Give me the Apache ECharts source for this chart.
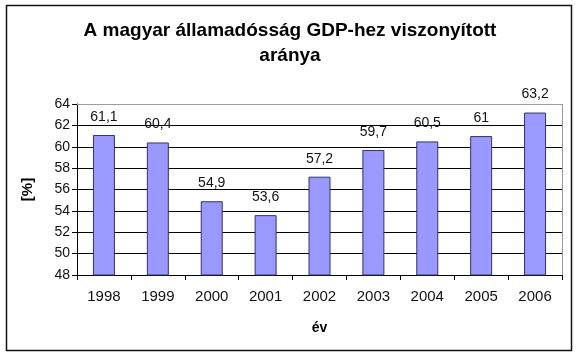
<!DOCTYPE html>
<html><head><meta charset="utf-8">
<script src="https://cdn.jsdelivr.net/npm/echarts@6/dist/echarts.min.js"></script>
<style>html,body{margin:0;padding:0;background:#fff}#c{width:580px;height:358px}</style>
</head><body><div id="c"></div>
<script>
const years = ['1998','1999','2000','2001','2002','2003','2004','2005','2006'];
const ratio = [61.1, 60.4, 54.9, 53.6, 57.2, 59.7, 60.5, 61, 63.2];
const titleText = 'A magyar államadósság GDP-hez viszonyított\naránya';
const yName = '[%]';
const xName = 'év';

const FONT = '"Liberation Sans", Arial, sans-serif';
const chart = echarts.init(document.getElementById('c'), null, {renderer: 'canvas'});
chart.setOption({
  backgroundColor: '#fff',
  animation: false,
  graphic: [{
    type: 'rect', shape: {x: 6.5, y: 5.5, width: 565, height: 345},
    style: {fill: 'none', stroke: '#111', lineWidth: 1.5}, silent: true
  }, {
    type: 'line', shape: {x1: 562.5, y1: 104, x2: 562.5, y2: 275},
    style: {stroke: '#999', lineWidth: 1}, silent: true, z: 0
  }, {
    type: 'line', shape: {x1: 77, y1: 104.5, x2: 563, y2: 104.5},
    style: {stroke: '#9a9a9a', lineWidth: 1}, silent: true, z: 100
  }],
  title: {
    text: titleText, left: 'center', top: 13,
    textStyle: {fontFamily: FONT, fontWeight: 'bold', fontSize: 19, color: '#000', lineHeight: 25}
  },
  grid: {left: 77, right: 18, top: 104, bottom: 83, containLabel: false},
  xAxis: {
    type: 'category', data: years,
    name: xName, nameLocation: 'middle', nameGap: 46,
    nameTextStyle: {fontFamily: FONT, fontWeight: 'bold', fontSize: 14, color: '#000'},
    axisLine: {lineStyle: {color: '#000', width: 1}},
    axisTick: {show: true, alignWithLabel: false, length: 5, lineStyle: {color: '#000'}},
    axisLabel: {fontFamily: FONT, fontSize: 15, color: '#111', margin: 14}
  },
  yAxis: {
    type: 'value', min: 48, max: 64, interval: 2,
    name: yName, nameLocation: 'middle', nameGap: 42, nameRotate: 90,
    nameTextStyle: {fontFamily: FONT, fontWeight: 'bold', fontSize: 15, color: '#000'},
    axisLine: {show: true, lineStyle: {color: '#000', width: 1}},
    axisTick: {show: true, length: 5, lineStyle: {color: '#000'}},
    axisLabel: {fontFamily: FONT, fontSize: 14, color: '#111', margin: 7},
    splitLine: {show: true, lineStyle: {color: '#000', width: 1}}
  },
  series: [{
    type: 'bar', data: ratio, barWidth: 22,
    itemStyle: {color: '#9999ff', borderColor: '#333366', borderWidth: 1},
    label: {
      show: true, position: 'top', distance: 11,
      fontFamily: FONT, fontSize: 14, color: '#111',
      formatter: p => String(p.value).replace('.', ',')
    }
  }]
});
</script></body></html>
